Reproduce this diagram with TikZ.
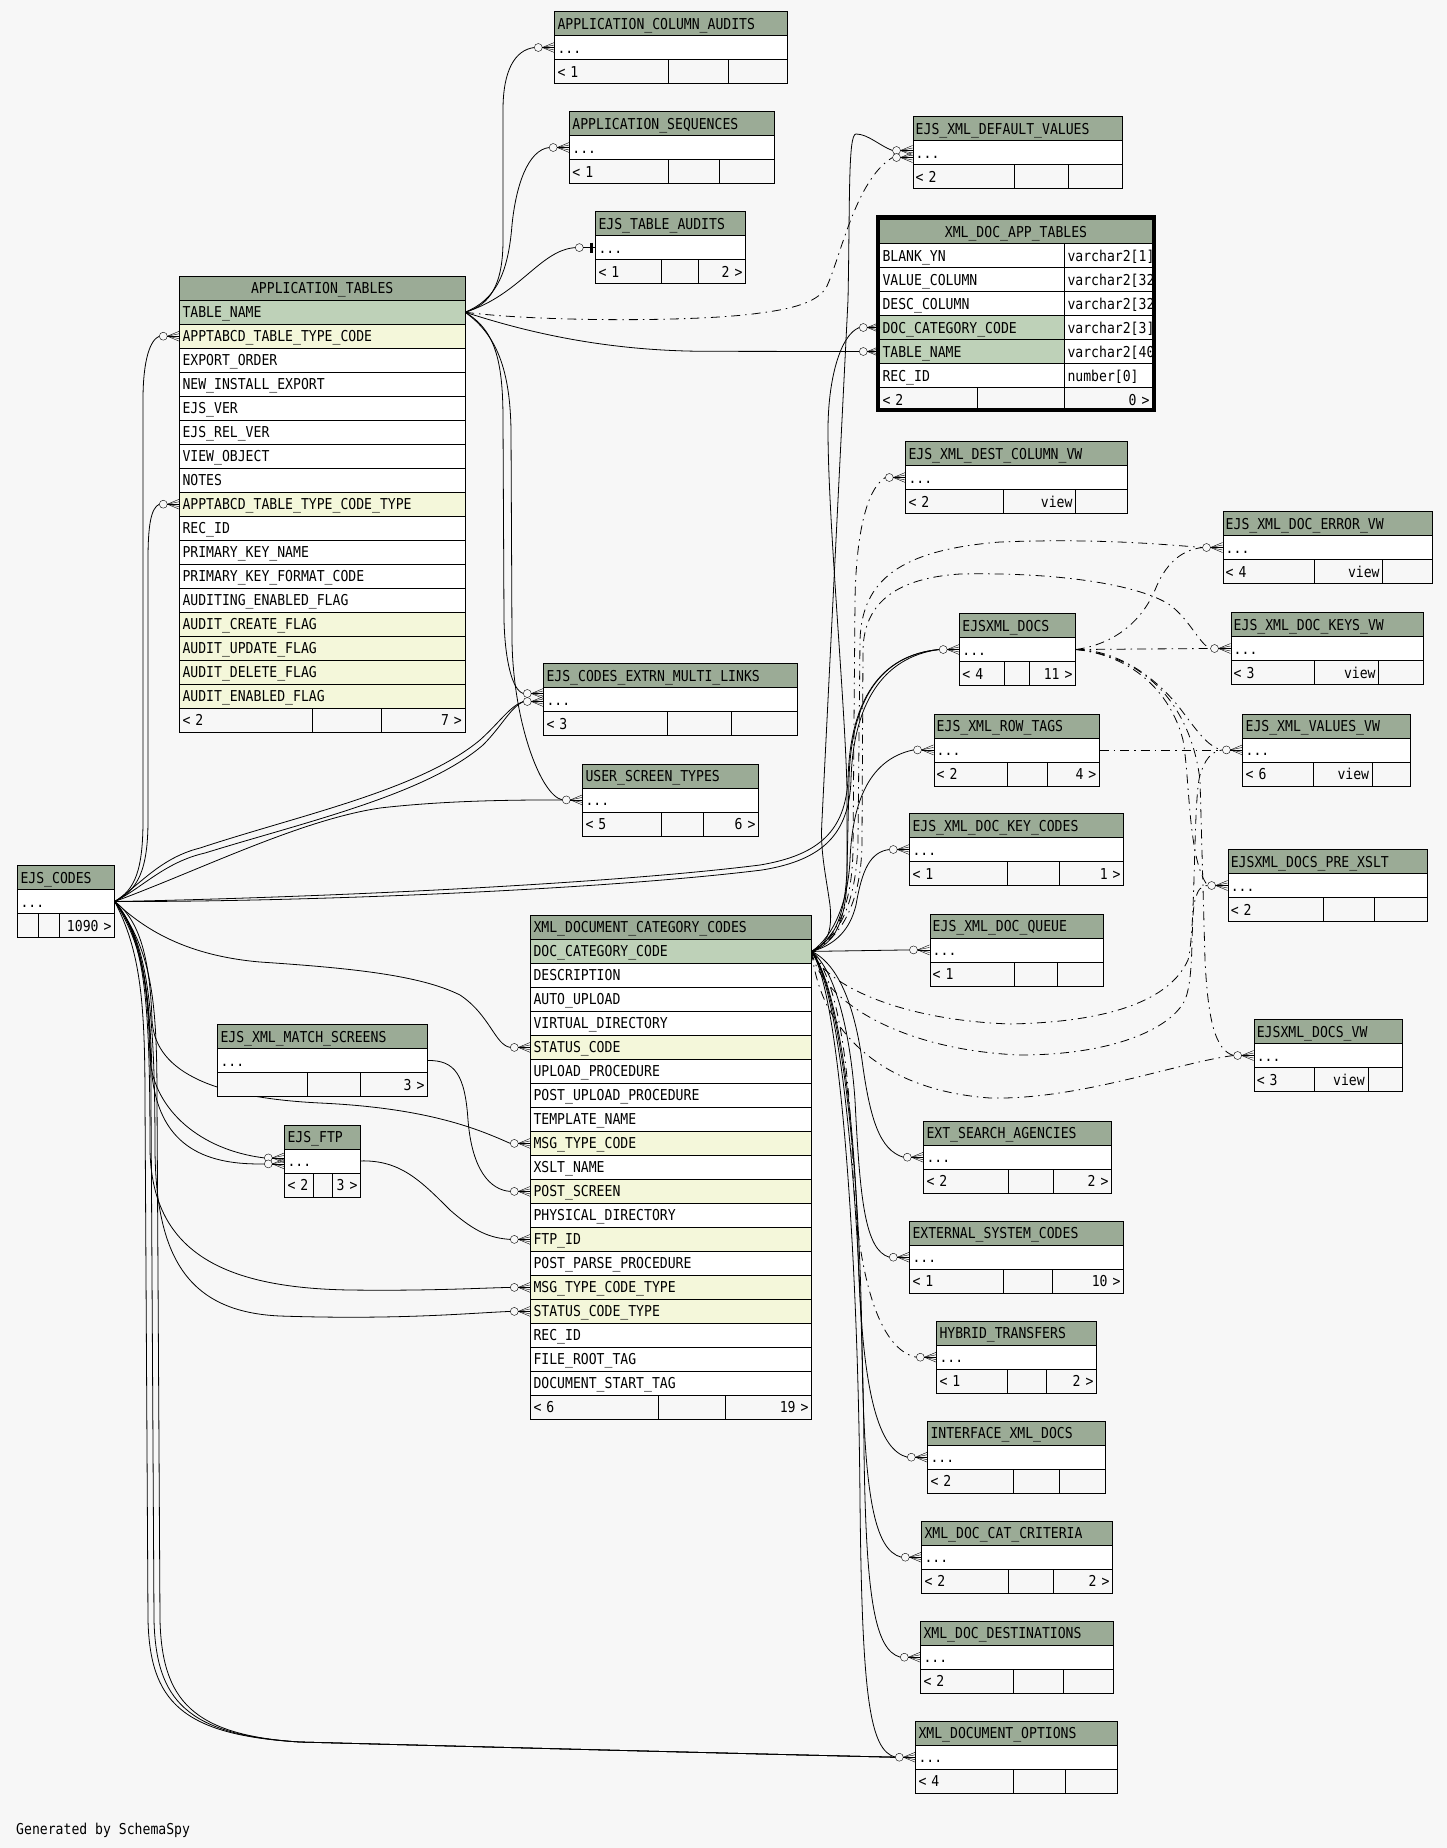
\documentclass[tikz,border=0pt]{standalone}
\usepackage{fontspec}
\newfontfamily\schemafont{DejaVu Sans Mono}[FakeStretch=0.875]
\usepackage{tikz}
\pgfdeclarelayer{back}
\pgfdeclarelayer{wires}
\pgfsetlayers{back,wires,main}
\definecolor{bgclr}{HTML}{F7F7F7}
\definecolor{hdrclr}{HTML}{9BAB96}
\definecolor{pkclr}{HTML}{BED1B8}
\definecolor{fkclr}{HTML}{F4F7DA}
\tikzset{
  cell/.style={draw,fill=#1,minimum height=24pt,inner xsep=3pt,inner ysep=0pt,anchor=north west,align=left,text height=11pt,text depth=0pt,font=\schemafont\fontsize{15}{18}\selectfont},
  cell/.default={white},
  rcell/.style={cell=#1,align=right},
  rcell/.default={bgclr},
  rel/.style={line width=0.8pt},
  implied/.style={rel,dash pattern=on 9pt off 5pt on 1.5pt off 5pt},
  crow/.pic={\draw[fill=bgclr] (-16,0) circle[radius=4];
    \foreach \dy in {-5,-2.5,0,2.5,5}{\draw (-12,0) -- (0,\dy);}
    \coordinate (-in) at (-20,0);},
  zeroone/.pic={\draw[fill=bgclr] (-16,0) circle[radius=4]; \draw (-12,0) -- (0,0);
    \draw[line width=2.5pt] (-4,-5) -- (-4,5); \coordinate (-in) at (-20,0);},
}

\begin{document}
\begin{tikzpicture}[x=1pt,y=-1pt,line width=0.8pt]
 \begin{pgfonlayer}{back}\fill[bgclr] (0,0) rectangle (1447,1848);\end{pgfonlayer}
 \useasboundingbox (0,0) rectangle (1447,1848);
 \def\tblfoot#1#2#3#4#5#6#7#8#9{\pgfmathsetmacro\ca{#5-#2-6}\pgfmathsetmacro\cb{#6-#5-6}\pgfmathsetmacro\cc{#4-#6-6}
  \node[cell=bgclr,text width=\ca pt] (#1-fa) at (#2,#3) {#7};
  \node[rcell,text width=\cb pt] (#1-fb) at (#5,#3) {#8};
  \node[rcell,text width=\cc pt] (#1-fc) at (#6,#3) {#9};}
 \foreach \id/\xa/\ya/\xb/\da/\db/\ttl/\fa/\fb/\fc in {
  aca/554.3/11.3/787.3/667.5/727.6/APPLICATION\_COLUMN\_AUDITS/<~1/{}/{},
  aseq/569.2/111.3/773.6/667.5/719.3/APPLICATION\_SEQUENCES/<~1/{}/{},
  eta/595.3/211.4/745.3/661.3/697.7/EJS\_TABLE\_AUDITS/<~1/{}/2~>,
  exdv/912.5/116.3/1121.5/1013.7/1067.6/EJS\_XML\_DEFAULT\_VALUES/<~2/{}/{},
  ecml/543.3/663.3/797.3/667.3/731.3/EJS\_CODES\_EXTRN\_MULTI\_LINKS/<~3/{}/{},
  ust/582.3/763.7/758.3/661.3/703.3/USER\_SCREEN\_TYPES/<~5/{}/6~>,
  exdcv/905.3/441.3/1127.4/1003.3/1075.3/EJS\_XML\_DEST\_COLUMN\_VW/<~2/view/{},
  exdev/1222.5/511.3/1431.5/1314.4/1382.4/EJS\_XML\_DOC\_ERROR\_VW/<~4/view/{},
  exd/959.2/613.3/1075.3/1004.4/1029.4/EJSXML\_DOCS/<~4/{}/11~>,
  exdkv/1230.5/612.3/1423.2/1314.4/1378.4/EJS\_XML\_DOC\_KEYS\_VW/<~3/view/{},
  exrt/933.5/713.7/1099.2/1007.3/1047.4/EJS\_XML\_ROW\_TAGS/<~2/{}/4~>,
  exvv/1242.4/713.7/1410.2/1313.3/1371.9/EJS\_XML\_VALUES\_VW/<~6/view/{},
  exdkc/909.3/813.3/1123.4/1007.3/1059.4/EJS\_XML\_DOC\_KEY\_CODES/<~1/{}/1~>,
  exdq/929.5/913.7/1103.1/1013.5/1057.2/EJS\_XML\_DOC\_QUEUE/<~1/{}/{},
  exdpx/1227.6/849.3/1426.5/1323.4/1374.4/EJSXML\_DOCS\_PRE\_XSLT/<~2/{}/{},
  exdvw/1253.6/1019.3/1401.5/1314.4/1367.5/EJSXML\_DOCS\_VW/<~3/view/{},
  esa/923.3/1121/1111.3/1008.3/1053.3/EXT\_SEARCH\_AGENCIES/<~2/{}/2~>,
  esc/909.3/1221/1123.3/1003.3/1052.3/EXTERNAL\_SYSTEM\_CODES/<~1/{}/10~>,
  ht/936.3/1321/1096.3/1007.3/1045.7/HYBRID\_TRANSFERS/<~1/{}/2~>,
  ixd/927.3/1421/1105.3/1013.3/1059.3/INTERFACE\_XML\_DOCS/<~2/{}/{},
  xdcc/921.3/1521/1112.3/1008.3/1053.3/XML\_DOC\_CAT\_CRITERIA/<~2/{}/2~>,
  xdd/920.3/1621/1113.3/1013.3/1063.3/XML\_DOC\_DESTINATIONS/<~2/{}/{},
  xdo/915.3/1721/1117.3/1013.3/1065.3/XML\_DOCUMENT\_OPTIONS/<~4/{}/{},
  ejsc/17.3/865.3/114.3/38.3/58.7/EJS\_CODES/{}/{}/1090~>,
  exms/217.3/1024.3/427.3/307.3/360.3/EJS\_XML\_MATCH\_SCREENS/{}/{}/3~>,
  eftp/284.3/1124.7/360.3/313.3/331.7/EJS\_FTP/<~2/{}/3~>}{
  \pgfmathsetmacro\cw{\xb-\xa-6}
  \node[cell=hdrclr,text width=\cw pt] (\id-h) at (\xa,\ya) {\ttl};
  \node[cell,text width=\cw pt] (\id) at (\xa,\ya+24) {...};
  \tblfoot{\id}{\xa}{\ya+48}{\xb}{\da}{\db}{\fa}{\fb}{\fc}}

 \node[cell=hdrclr,align=center,text width=279.4pt] (at-h) at (179.3,276) {APPLICATION\_TABLES};
 \foreach \rw/\cl [count=\i] in {TABLE\_NAME/pkclr,APPTABCD\_TABLE\_TYPE\_CODE/fkclr,EXPORT\_ORDER/white,
  NEW\_INSTALL\_EXPORT/white,EJS\_VER/white,EJS\_REL\_VER/white,VIEW\_OBJECT/white,NOTES/white,
  APPTABCD\_TABLE\_TYPE\_CODE\_TYPE/fkclr,REC\_ID/white,PRIMARY\_KEY\_NAME/white,PRIMARY\_KEY\_FORMAT\_CODE/white,
  AUDITING\_ENABLED\_FLAG/white,AUDIT\_CREATE\_FLAG/fkclr,AUDIT\_UPDATE\_FLAG/fkclr,AUDIT\_DELETE\_FLAG/fkclr,
  AUDIT\_ENABLED\_FLAG/fkclr}
  \node[cell=\cl,text width=279.4pt] (at-r\i) at (179.3,276+24*\i) {\rw};
 \tblfoot{at}{179.3}{708}{464.7}{312.3}{381.3}{<~2}{}{7~>}

 \node[cell=hdrclr,text width=275pt] (xdct-h) at (530.3,915.2) {XML\_DOCUMENT\_CATEGORY\_CODES};
 \foreach \rw/\cl [count=\i] in {DOC\_CATEGORY\_CODE/pkclr,DESCRIPTION/white,AUTO\_UPLOAD/white,
  VIRTUAL\_DIRECTORY/white,STATUS\_CODE/fkclr,UPLOAD\_PROCEDURE/white,POST\_UPLOAD\_PROCEDURE/white,
  TEMPLATE\_NAME/white,MSG\_TYPE\_CODE/fkclr,XSLT\_NAME/white,POST\_SCREEN/fkclr,PHYSICAL\_DIRECTORY/white,
  FTP\_ID/fkclr,POST\_PARSE\_PROCEDURE/white,MSG\_TYPE\_CODE\_TYPE/fkclr,STATUS\_CODE\_TYPE/fkclr,
  REC\_ID/white,FILE\_ROOT\_TAG/white,DOCUMENT\_START\_TAG/white}
  \node[cell=\cl,text width=275pt] (xdct-r\i) at (530.3,915.2+24*\i) {\rw};
 \tblfoot{xdct}{530.3}{1395.2}{811.3}{658.3}{725.3}{<~6}{}{19~>}

 \begin{scope}
  \clip (870,210) rectangle (1154,414);
  \node[cell=hdrclr,align=center,text width=267pt] (xdat-h) at (879.3,219.3) {XML\_DOC\_APP\_TABLES};
  \foreach \rw/\ty/\cl [count=\i] in {BLANK\_YN/varchar2[1]/white,VALUE\_COLUMN/varchar2[32]/white,
   DESC\_COLUMN/varchar2[32]/white,DOC\_CATEGORY\_CODE/varchar2[3]/pkclr,TABLE\_NAME/varchar2[40]/pkclr,
   REC\_ID/number[0]/white}{
   \node[cell=\cl,text width=179pt] (xdat-r\i) at (879.3,219.3+24*\i) {\rw};
   \node[cell,text width=82pt] (xdat-t\i) at (1064.3,219.3+24*\i) {\ty};}
  \tblfoot{xdat}{879.3}{387.3}{1152.3}{977.3}{1064.3}{<~2}{}{0~>}
 \end{scope}
 \draw[line width=3.7pt] (877.5,216.8) rectangle (1154,410);

 \node[font=\schemafont\fontsize{15}{18}\selectfont,anchor=base west,inner sep=0pt] (gen) at (16,1834) {Generated by SchemaSpy};

 \foreach \k in {aca,aseq,ust,exdcv,exdev,exd,exdkv,exrt,exvv,exdkc,exdq,exdpx,exdvw,esa,esc,ht,ixd,xdcc,xdd,xdo}
  \pic (k-\k) at (\k.west) {crow};
 \pic (k-eta) at (eta.west) {zeroone};
 \pic (k-exdv1) at ([yshift=2pt]exdv.west) {crow};
 \pic (k-exdv2) at ([yshift=-5pt]exdv.west) {crow};
 \pic (k-ecml1) at ([yshift=6pt]ecml.west) {crow};
 \pic (k-ecml2) at ([yshift=-2pt]ecml.west) {crow};
 \pic (k-eftp1) at ([yshift=3pt]eftp.west) {crow};
 \pic (k-eftp2) at ([yshift=-3pt]eftp.west) {crow};
 \foreach \k in {4,5} \pic (k-xdat\k) at (xdat-r\k.west) {crow};
 \foreach \k in {2,9} \pic (k-at\k) at (at-r\k.west) {crow};
 \foreach \k in {5,9,11,13,15,16} \pic (k-xdct\k) at (xdct-r\k.west) {crow};

 \begin{pgfonlayer}{wires}
  \draw[rel] (at-r1.east) .. controls (490,305) and (503,285) .. (503,240) -- (503,110) .. controls (503,70) and (515,50) .. (k-aca-in);
  \draw[rel] (at-r1.east) .. controls (495,300) and (508,275) .. (512,225) .. controls (516,185) and (528,150) .. (k-aseq-in);
  \draw[rel] (at-r1.east) .. controls (520,295) and (540,250) .. (k-eta-in);
  \draw[rel] (at-r1.east) .. controls (520,330) and (600,351) .. (706,351.3) -- (k-xdat5-in);
  \draw[implied] (at-r1.east) .. controls (540,322) and (700,322) .. (760,313) .. controls (800,308) and (818,300) .. (826,288) .. controls (840,260) and (855,180) .. (k-exdv2-in);
  \draw[rel] (at-r1.east) .. controls (495,330) and (503,360) .. (503,420) -- (504,620) .. controls (505,660) and (512,690) .. (k-ecml1-in);
  \draw[rel] (at-r1.east) .. controls (497,335) and (510,370) .. (511,430) -- (512,640) .. controls (513,720) and (540,795) .. (k-ust-in);

  \draw[rel] (ejsc.east) .. controls (135,890) and (143,870) .. (143,820) -- (143,400) .. controls (143,360) and (150,340) .. (k-at2-in);
  \draw[rel] (ejsc.east) .. controls (138,890) and (148,870) .. (148,820) -- (148,560) .. controls (148,525) and (151,508) .. (k-at9-in);
  \draw[rel] (ejsc.east) .. controls (140,885) and (160,858) .. (200,848) .. controls (300,815) and (420,790) .. (480,740) .. controls (500,722) and (510,706) .. (k-ecml2-in);
  \draw[rel] (ejsc.east) .. controls (142,888) and (165,862) .. (205,853) .. controls (305,822) and (425,795) .. (483,745) .. controls (502,726) and (510,708) .. (k-ecml2-in);
  \draw[rel] (ejsc.east) .. controls (200,870) and (300,820) .. (380,808) .. controls (450,800) and (520,800) .. (k-ust-in);
  \draw[rel] (ejsc.east) .. controls (300,898) and (600,885) .. (760,865) .. controls (820,855) and (845,830) .. (848,780) .. controls (850,700) and (880,655) .. (k-exd-in);
  \draw[rel] (ejsc.east) .. controls (300,902) and (600,890) .. (762,870) .. controls (824,860) and (849,833) .. (851,780) .. controls (853,705) and (882,657) .. (k-exd-in);
  \draw[rel] (ejsc.east) .. controls (140,925) and (180,955) .. (260,962) .. controls (350,968) and (420,975) .. (460,995) .. controls (490,1015) and (495,1045) .. (k-xdct5-in);
  \draw[rel] (ejsc.east) .. controls (140,920) and (150,960) .. (152,1020) .. controls (155,1075) and (220,1098) .. (320,1103) .. controls (430,1108) and (480,1130) .. (k-xdct9-in);
  \draw[rel] (ejsc.east) .. controls (140,930) and (148,980) .. (150,1060) .. controls (155,1110) and (200,1150) .. (k-eftp1-in);
  \draw[rel] (ejsc.east) .. controls (142,935) and (150,990) .. (152,1075) .. controls (160,1150) and (210,1165) .. (k-eftp2-in);
  \draw[rel] (ejsc.east) .. controls (145,940) and (150,1000) .. (150,1150) .. controls (152,1250) and (220,1288) .. (350,1290) .. controls (430,1291) and (480,1288) .. (k-xdct15-in);
  \draw[rel] (ejsc.east) .. controls (148,940) and (155,1010) .. (155,1150) .. controls (156,1260) and (190,1312) .. (280,1316) .. controls (400,1320) and (470,1313) .. (k-xdct16-in);
  \foreach \dx in {0,6,12}
   \draw[rel] (ejsc.east) .. controls (140+\dx,950) and (145+\dx,1000) .. (145+\dx,1100) -- (148+\dx,1620) .. controls (150+\dx,1700) and (180+\dx,1735) .. (300,1742) .. controls (600,1750) and (800,1755) .. (k-xdo-in);
  \draw[rel] (exms.east) .. controls (455,1060) and (465,1075) .. (468,1120) .. controls (472,1170) and (490,1190) .. (k-xdct11-in);
  \draw[rel] (eftp.east) .. controls (400,1160) and (420,1180) .. (450,1210) .. controls (475,1232) and (490,1238) .. (k-xdct13-in);

  \draw[rel] (xdct-r1.east) .. controls (830,945) and (845,930) .. (847,880) -- (847,790) .. controls (845,700) and (828,520) .. (828,430) .. controls (828,380) and (840,335) .. (k-xdat4-in);
  \draw[rel] (xdct-r1.east) .. controls (825,945) and (833,935) .. (830,905) .. controls (825,870) and (820,850) .. (822,820) -- (848,300) .. controls (850,200) and (848,134) .. (856,134) .. controls (868,134) and (880,146) .. (k-exdv1-in);
  \draw[implied] (xdct-r1.east) .. controls (840,935) and (852,900) .. (853,850) -- (855,600) .. controls (856,540) and (865,490) .. (k-exdcv-in);
  \draw[implied] (xdct-r1.east) .. controls (845,935) and (857,890) .. (858,840) -- (860,640) .. controls (862,580) and (900,550) .. (1000,542) .. controls (1100,538) and (1170,545) .. (k-exdev-in);
  \draw[implied] (xdct-r1.east) .. controls (848,935) and (862,890) .. (862,840) -- (863,650) .. controls (864,600) and (900,578) .. (960,574) .. controls (1060,572) and (1140,585) .. (1170,605) .. controls (1190,620) and (1200,645) .. (k-exdkv-in);
  \draw[rel] (xdct-r1.east) .. controls (835,940) and (845,915) .. (847,870) -- (849,780) .. controls (851,700) and (880,655) .. (k-exd-in);
  \draw[rel] (xdct-r1.east) .. controls (835,935) and (848,900) .. (850,860) .. controls (852,810) and (865,760) .. (k-exrt-in);
  \draw[implied] (xdct-r1.east) .. controls (825,985) and (900,1020) .. (1010,1024) .. controls (1110,1022) and (1170,1000) .. (1188,960) .. controls (1196,930) and (1193,800) .. (1200,775) .. controls (1205,760) and (1210,752) .. (k-exvv-in);
  \draw[implied] (xdct-r1.east) .. controls (820,1000) and (900,1050) .. (1020,1055) .. controls (1110,1055) and (1170,1030) .. (1185,1000) .. controls (1195,975) and (1190,920) .. (1195,900) .. controls (1198,890) and (1200,886) .. (k-exdpx-in);
  \draw[implied] (xdct-r1.east) .. controls (820,1030) and (880,1090) .. (990,1098) .. controls (1080,1100) and (1180,1062) .. (k-exdvw-in);
  \draw[rel] (xdct-r1.east) .. controls (835,945) and (850,930) .. (856,905) .. controls (862,870) and (870,852) .. (k-exdkc-in);
  \draw[rel] (xdct-r1.east) -- (k-exdq-in);
  \draw[rel] (xdct-r1.east) .. controls (840,965) and (855,1010) .. (862,1060) .. controls (870,1120) and (880,1150) .. (k-esa-in);
  \draw[rel] (xdct-r1.east) .. controls (835,970) and (850,1030) .. (855,1100) .. controls (860,1200) and (865,1250) .. (k-esc-in);
  \draw[implied] (xdct-r1.east) .. controls (835,975) and (848,1050) .. (852,1150) .. controls (856,1280) and (880,1350) .. (k-ht-in);
  \draw[rel] (xdct-r1.east) .. controls (835,980) and (855,1100) .. (858,1250) .. controls (862,1400) and (880,1450) .. (k-ixd-in);
  \draw[rel] (xdct-r1.east) .. controls (838,985) and (860,1150) .. (862,1350) .. controls (864,1500) and (875,1550) .. (k-xdcc-in);
  \draw[rel] (xdct-r1.east) .. controls (840,990) and (862,1200) .. (864,1450) .. controls (866,1600) and (875,1650) .. (k-xdd-in);
  \draw[rel] (xdct-r1.east) .. controls (840,995) and (858,1250) .. (860,1500) .. controls (862,1700) and (870,1750) .. (k-xdo-in);

  \draw[implied] (exd.east) .. controls (1110,645) and (1140,625) .. (1155,590) .. controls (1165,565) and (1180,550) .. (k-exdev-in);
  \draw[implied] (exd.east) -- (k-exdkv-in);
  \draw[implied] (exd.east) .. controls (1120,650) and (1160,680) .. (1185,715) .. controls (1200,735) and (1210,748) .. (k-exvv-in);
  \draw[implied] (exd.east) .. controls (1130,655) and (1170,690) .. (1183,740) .. controls (1190,780) and (1188,860) .. (k-exdpx-in);
  \draw[implied] (exd.east) .. controls (1140,655) and (1190,700) .. (1200,780) -- (1205,960) .. controls (1208,1020) and (1215,1050) .. (k-exdvw-in);
  \draw[implied] (exrt.east) -- (k-exvv-in);
 \end{pgfonlayer}
\end{tikzpicture}
\end{document}
